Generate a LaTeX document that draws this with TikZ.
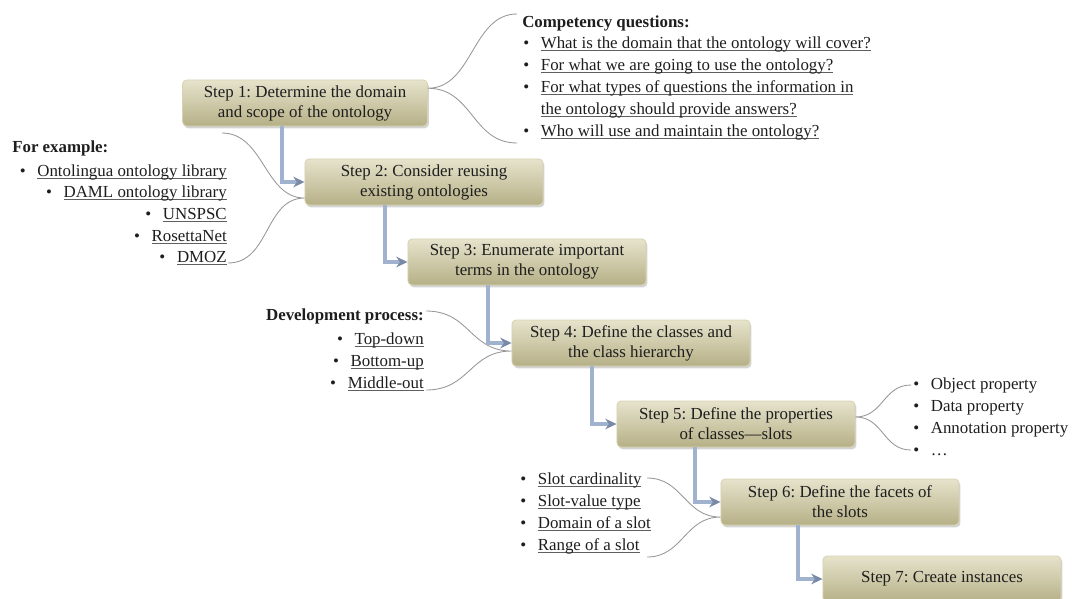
\documentclass[tikz,border=0pt]{standalone}
\usepackage{fontspec}
\setmainfont{Liberation Serif}
\usetikzlibrary{arrows.meta,shadows}
\frenchspacing
\definecolor{boxtop}{RGB}{230,227,204}
\definecolor{boxbot}{RGB}{182,176,134}
\definecolor{boxrim}{RGB}{214,210,178}
\definecolor{flowline}{RGB}{160,178,206}
\definecolor{flowtip}{RGB}{120,138,168}
\definecolor{curlgray}{RGB}{150,150,150}
\definecolor{txt}{RGB}{30,30,30}
\definecolor{ulgray}{RGB}{95,95,95}
\newcommand\bul{\makebox[12.5pt][l]{\textbullet}}
\newcommand\lnk[1]{\setbox0\hbox{#1}\rlap{\textcolor{ulgray}{\rule[-2.3pt]{\wd0}{0.7pt}}}\box0}
\tikzset{
  stepbox/.style={draw=boxrim, line width=0.6pt, rounded corners=3pt,
    top color=boxtop, bottom color=boxbot,
    drop shadow={shadow xshift=1pt, shadow yshift=-1.6pt, opacity=0.35},
    minimum width=5.95cm, minimum height=1.15cm, align=center, inner sep=2pt,
    text=txt, font=\fontsize{12}{14.2}\selectfont},
  stepflow/.style={draw=flowline, line width=2.4pt,
    -{Stealth[length=8pt,width=7.5pt,color=flowtip]}},
  curl/.style={draw=curlgray, line width=0.6pt},
  listline/.style={inner sep=0pt, text height=8.5pt, text depth=2.5pt,
    text=txt, font=\fontsize{12}{15}\selectfont},
}
\begin{document}
\begin{tikzpicture}[x=0.025cm, y=-0.025cm]
  \useasboundingbox (0,0) rectangle (1075,598);
  \path
    (305,103) node[stepbox, minimum width=6.12cm] (s1) {Step 1: Determine the domain\\and scope of the ontology}
    (424,182) node[stepbox] (s2) {Step 2: Consider reusing\\existing ontologies}
    (527,262) node[stepbox] (s3) {Step 3: Enumerate important\\terms in the ontology}
    (631,343) node[stepbox] (s4) {Step 4: Define the classes and\\the class hierarchy}
    (736,424) node[stepbox] (s5) {Step 5: Define the properties\\of classes—slots}
    (840,502) node[stepbox] (s6) {Step 6: Define the facets of\\the slots}
    (942,579) node[stepbox] (s7) {Step 7: Create instances};
  \path
    (522,23) node[listline, anchor=west] (cqhead) {\textbf{Competency questions:}}
    (523,44) node[listline, anchor=west] (cq1) {\bul\lnk{What is the domain that the ontology will cover?}}
    (523,66) node[listline, anchor=west] (cq2) {\bul\lnk{For what we are going to use the ontology?}}
    (523,88) node[listline, anchor=west] (cq3) {\bul\lnk{For what types of questions the information in}}
    (540.6,110) node[listline, anchor=west] (cq3b) {\lnk{the ontology should provide answers?}}
    (523,132) node[listline, anchor=west] (cq4) {\bul\lnk{Who will use and maintain the ontology?}};
  \path
    (12,148) node[listline, anchor=west] (exhead) {\textbf{For example:}}
    (227,172) node[listline, anchor=east] (ex1) {\bul\lnk{Ontolingua ontology library}}
    (227,193) node[listline, anchor=east] (ex2) {\bul\lnk{DAML ontology library}}
    (227,215) node[listline, anchor=east] (ex3) {\bul\lnk{UNSPSC}}
    (227,237) node[listline, anchor=east] (ex4) {\bul\lnk{RosettaNet}}
    (227,258) node[listline, anchor=east] (ex5) {\bul\lnk{DMOZ}};
  \path
    (424,316) node[listline, anchor=east] (dvhead) {\textbf{Development process:}}
    (424,340) node[listline, anchor=east] (dv1) {\bul\lnk{Top-down}}
    (424,362) node[listline, anchor=east] (dv2) {\bul\lnk{Bottom-up}}
    (424,384) node[listline, anchor=east] (dv3) {\bul\lnk{Middle-out}};
  \path
    (913,385) node[listline, anchor=west] (pr1) {\bul Object property}
    (913,407) node[listline, anchor=west] (pr2) {\bul Data property}
    (913,429) node[listline, anchor=west] (pr3) {\bul Annotation property}
    (913,451) node[listline, anchor=west] (pr4) {\bul …};
  \path
    (520,480) node[listline, anchor=west] (sl1) {\bul\lnk{Slot cardinality}}
    (520,502) node[listline, anchor=west] (sl2) {\bul\lnk{Slot-value type}}
    (520,524) node[listline, anchor=west] (sl3) {\bul\lnk{Domain of a slot}}
    (520,546) node[listline, anchor=west] (sl4) {\bul\lnk{Range of a slot}};
  \coordinate (cqtop) at (517,14);
  \coordinate (cqbot) at (517,143);
  \coordinate (extop) at (222,133);
  \coordinate (exbot) at (228,263);
  \coordinate (dvtop) at (426,311);
  \coordinate (dvbot) at (426,390);
  \coordinate (prtop) at (911,385);
  \coordinate (prbot) at (911,450);
  \coordinate (sltop) at (647,478);
  \coordinate (slbot) at (647,557);
  \begin{scope}[curl]
    \draw (cqtop) .. controls +(-45,0) and +(45,0) .. ([yshift=10.5pt]s1.east) .. controls +(45,0) and +(-45,0) .. (cqbot);
    \draw (extop) .. controls +(42,0) and +(-40,0) .. ([yshift=-11.4pt]s2.west) .. controls +(-40,0) and +(42,0) .. (exbot);
    \draw (dvtop) .. controls +(44,0) and +(-42,0) .. ([yshift=-5.7pt]s4.west) .. controls +(-42,0) and +(44,0) .. (dvbot);
    \draw (prtop) .. controls +(-28,0) and +(28,0) .. ([yshift=5pt]s5.east) .. controls +(28,0) and +(-28,0) .. (prbot);
    \draw (sltop) .. controls +(36,0) and +(-36,0) .. ([yshift=-10.7pt]s6.west) .. controls +(-36,0) and +(36,0) .. (slbot);
  \end{scope}
  \begin{scope}[stepflow]
    \draw (s1.south) ++(-23,0) |- (s2.west);
    \draw (s2.south) ++(-39,0) |- (s3.west);
    \draw (s3.south) ++(-39,0) |- (s4.west);
    \draw (s4.south) ++(-39,0) |- (s5.west);
    \draw (s5.south) ++(-41,0) |- (s6.west);
    \draw (s6.south) ++(-42,0) |- (s7.west);
  \end{scope}
\end{tikzpicture}
\end{document}
